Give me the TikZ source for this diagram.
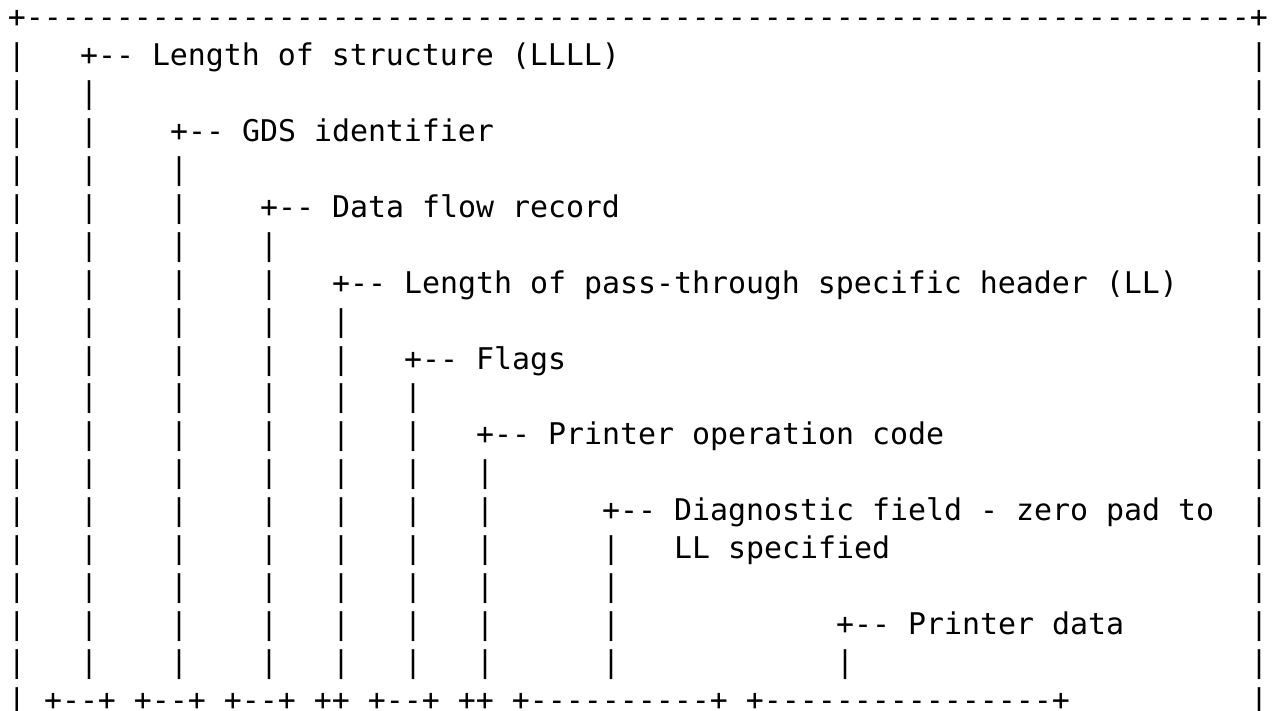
\documentclass[tikz,border=0pt]{standalone}
\usepackage{fontspec}
\setmonofont{DejaVu Sans Mono}
\tikzset{
  asc/.style={anchor=base west, inner sep=0pt, outer sep=0pt, text=black,
    font=\ttfamily\fontsize{29.9}{37.9}\selectfont}
}
\newcommand\ascat[4]{\node[asc] (#1) at ({8+18*#2},{682-37.9*#3}) {#4};}
\begin{document}
\begin{tikzpicture}[x=1pt,y=1pt]
\useasboundingbox (0,0) rectangle (1274,710);
% top border
\ascat{top}{0}{0}{+--------------------------------------------------------------------+}
% vertical bars
\foreach \c/\s/\e in {0/1/18, 4/2/17, 9/4/17, 14/6/17, 18/8/17, 22/10/17, 26/12/17, 33/14/17, 46/17/17, 69/1/18}{
  \foreach \r in {\s,...,\e}{
    \node[asc] (v-\c-\r) at ({8+18*\c},{682-37.9*\r}) {|};
  }
}
% labels
\ascat{l1}{4}{1}{+-- Length of structure (LLLL)}
\ascat{l2}{9}{3}{+-- GDS identifier}
\ascat{l3}{14}{5}{+-- Data flow record}
\ascat{l4}{18}{7}{+-- Length of pass-through specific header (LL)}
\ascat{l5}{22}{9}{+-- Flags}
\ascat{l6}{26}{11}{+-- Printer operation code}
\ascat{l7}{33}{13}{+-- Diagnostic field - zero pad to}
\ascat{l7b}{37}{14}{LL specified}
\ascat{l8}{46}{16}{+-- Printer data}
% bottom brackets
\ascat{bot}{2}{18}{+--+ +--+ +--+ ++ +--+ ++ +----------+ +----------------+}
\end{tikzpicture}
\end{document}
